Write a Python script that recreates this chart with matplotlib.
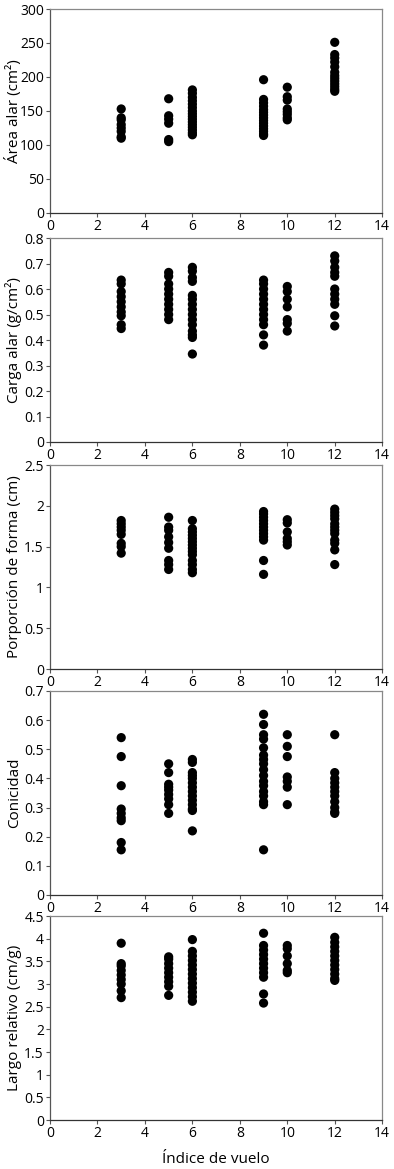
import numpy as np
import matplotlib
matplotlib.use('Agg')
from matplotlib import pyplot as plt

plt.rcParams['font.family'] = ['Open Sans', 'DejaVu Sans']

# flight index groups (x) and values
indice_vuelo = [3, 5, 6, 9, 10, 12]

area_alar = [
    [153, 140, 137, 130, 125, 120, 112, 110],
    [168, 143, 138, 132, 108, 105],
    [181, 176, 170, 165, 160, 155, 150, 146, 142, 138, 134, 130, 126, 122, 118, 115],
    [196, 167, 162, 157, 152, 148, 144, 140, 136, 132, 128, 124, 120, 116, 114],
    [185, 171, 166, 153, 149, 145, 140, 137],
    [251, 233, 228, 222, 215, 207, 202, 198, 194, 190, 186, 182, 179],
]
carga_alar = [
    [0.635, 0.62, 0.59, 0.57, 0.55, 0.53, 0.51, 0.495, 0.46, 0.445],
    [0.665, 0.65, 0.62, 0.60, 0.58, 0.56, 0.54, 0.52, 0.50, 0.48],
    [0.685, 0.67, 0.645, 0.63, 0.575, 0.56, 0.54, 0.52, 0.50, 0.48, 0.46, 0.435, 0.42, 0.41, 0.345],
    [0.635, 0.62, 0.60, 0.58, 0.56, 0.54, 0.52, 0.50, 0.48, 0.46, 0.42, 0.38],
    [0.61, 0.59, 0.56, 0.53, 0.48, 0.465, 0.435],
    [0.73, 0.71, 0.685, 0.665, 0.65, 0.60, 0.58, 0.56, 0.54, 0.495, 0.455],
]
proporcion_forma = [
    [1.82, 1.78, 1.74, 1.70, 1.65, 1.54, 1.50, 1.42],
    [1.86, 1.74, 1.70, 1.62, 1.55, 1.48, 1.33, 1.28, 1.22],
    [1.82, 1.72, 1.68, 1.64, 1.60, 1.56, 1.52, 1.48, 1.44, 1.40, 1.33, 1.28, 1.22, 1.18],
    [1.93, 1.90, 1.86, 1.82, 1.78, 1.74, 1.70, 1.66, 1.62, 1.58, 1.33, 1.16],
    [1.83, 1.79, 1.68, 1.60, 1.56, 1.52],
    [1.96, 1.92, 1.88, 1.84, 1.78, 1.74, 1.70, 1.66, 1.58, 1.54, 1.46, 1.28],
]
conicidad = [
    [0.54, 0.475, 0.375, 0.295, 0.28, 0.265, 0.255, 0.18, 0.155],
    [0.45, 0.42, 0.38, 0.37, 0.36, 0.345, 0.33, 0.31, 0.28],
    [0.465, 0.455, 0.42, 0.41, 0.40, 0.385, 0.37, 0.355, 0.34, 0.325, 0.31, 0.295, 0.29, 0.22],
    [0.62, 0.585, 0.55, 0.535, 0.505, 0.48, 0.465, 0.45, 0.43, 0.41, 0.39, 0.375, 0.355, 0.34, 0.32, 0.31, 0.155],
    [0.55, 0.51, 0.475, 0.405, 0.39, 0.37, 0.31],
    [0.55, 0.42, 0.40, 0.385, 0.37, 0.355, 0.34, 0.32, 0.30, 0.285, 0.28],
]
largo_relativo = [
    [3.9, 3.45, 3.40, 3.30, 3.20, 3.10, 3.00, 2.85, 2.70],
    [3.6, 3.55, 3.45, 3.35, 3.25, 3.15, 3.05, 2.95, 2.75],
    [3.98, 3.72, 3.62, 3.52, 3.42, 3.32, 3.22, 3.12, 3.02, 2.92, 2.82, 2.72, 2.62],
    [4.12, 3.85, 3.75, 3.65, 3.55, 3.45, 3.35, 3.25, 3.15, 2.78, 2.58],
    [3.85, 3.78, 3.62, 3.45, 3.30, 3.25],
    [4.03, 3.92, 3.82, 3.72, 3.62, 3.52, 3.42, 3.32, 3.22, 3.12, 3.08],
]

panels = [
    (area_alar, 'Área alar (cm²)', np.arange(0, 301, 50), ['0', '50', '100', '150', '200', '250', '300']),
    (carga_alar, 'Carga alar (g/cm²)', np.arange(0, 0.81, 0.1), ['0', '0.1', '0.2', '0.3', '0.4', '0.5', '0.6', '0.7', '0.8']),
    (proporcion_forma, 'Porporción de forma (cm)', np.arange(0, 2.51, 0.5), ['0', '0.5', '1', '1.5', '2', '2.5']),
    (conicidad, 'Conicidad', np.arange(0, 0.71, 0.1), ['0', '0.1', '0.2', '0.3', '0.4', '0.5', '0.6', '0.7']),
    (largo_relativo, 'Largo relativo (cm/g)', np.arange(0, 4.51, 0.5), ['0', '0.5', '1', '1.5', '2', '2.5', '3', '3.5', '4', '4.5']),
]

# axes boxes in figure fractions (left, bottom, width, height)
bottoms = [0.8178, 0.6219, 0.4277, 0.2344, 0.0419]
left, width, height = 0.127, 0.843, 0.1745

fig = plt.figure(figsize=(3.94, 11.69), dpi=100)

for (values, ylabel, yticks, yticklabels), bottom in zip(panels, bottoms):
    ax = fig.add_axes([left, bottom, width, height])
    for x, ys in zip(indice_vuelo, values):
        ax.scatter([x] * len(ys), ys, s=44, color='black', edgecolors='none', zorder=3)

    ax.set_xlim(0, 14)
    ax.set_xticks(range(0, 15, 2))
    ax.set_ylim(yticks[0], yticks[-1])
    ax.set_yticks(yticks, yticklabels)
    ax.set_ylabel(ylabel, fontsize=11)
    ax.yaxis.set_label_coords(-0.085, 0.5)

    ax.tick_params(labelsize=10, length=3, width=0.8, pad=1.5, color='#555555')
    ax.spines['left'].set_color('#555555')
    ax.spines['bottom'].set_color('#333333')
    for side in ['top', 'right']:
        ax.spines[side].set_color('#888888')
    for side in ax.spines:
        ax.spines[side].set_linewidth(0.9)

ax.set_xlabel('Índice de vuelo', fontsize=11, labelpad=8)

fig.savefig('out.png', dpi=100)
